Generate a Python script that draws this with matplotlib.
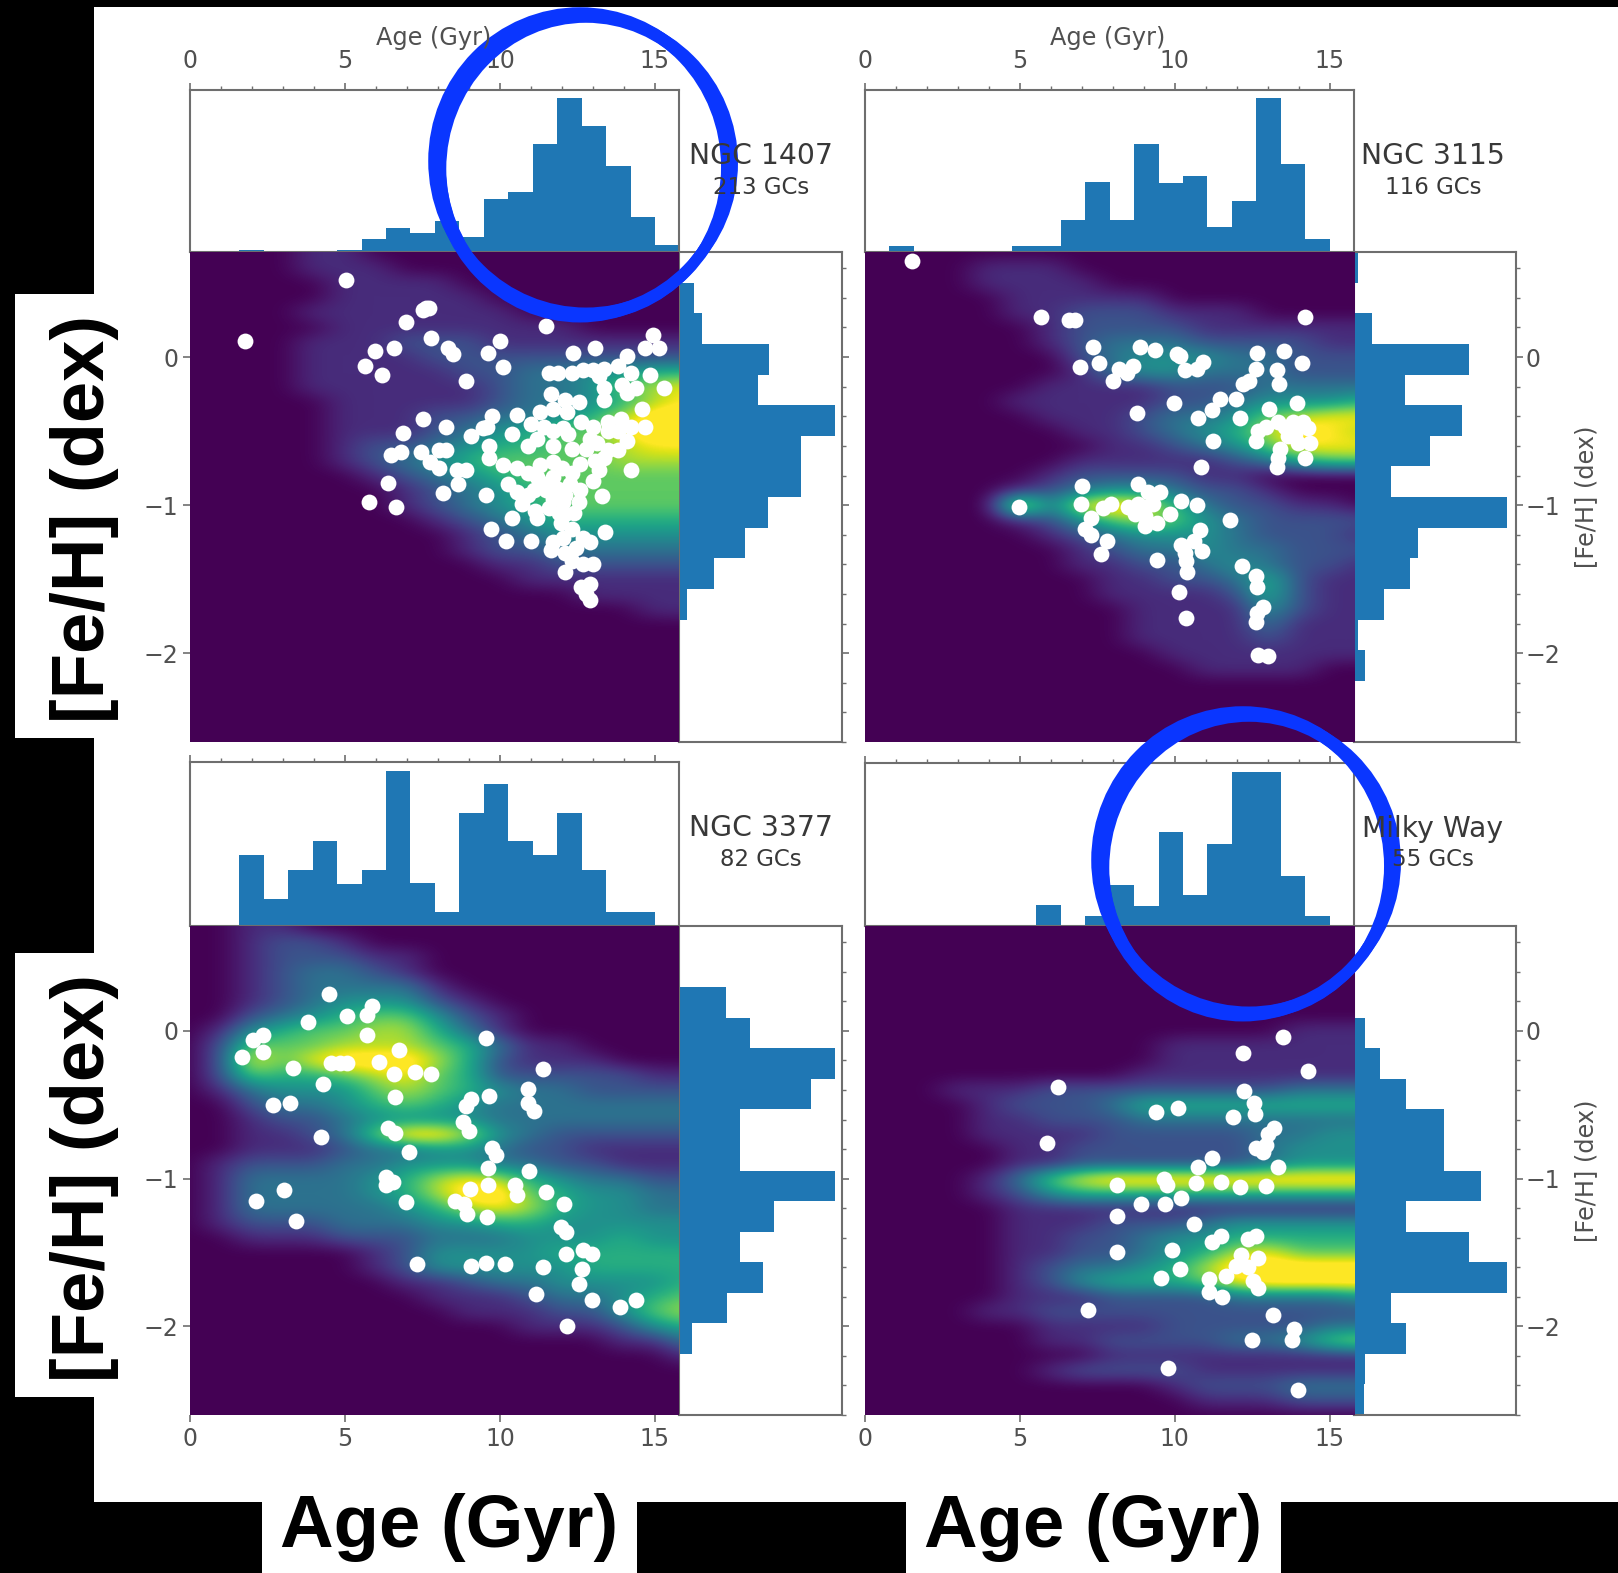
import matplotlib
matplotlib.use('Agg')
import matplotlib.pyplot as plt
from matplotlib.patches import Ellipse, Rectangle
import numpy as np

W = 1618
H = 1573

# histogram heights (same arbitrary unit for all panels)
age_hist_1407 = [0, 0, 5, 0, 0, 0, 5, 28, 50, 40, 65, 32, 109, 124, 225, 320, 262, 179, 73, 15]
age_hist_3115 = [0, 13, 0, 0, 0, 0, 13, 13, 66, 145, 66, 224, 144, 158, 52, 105, 320, 183, 27, 0]
age_hist_3377 = [0, 0, 146, 56, 115, 174, 87, 115, 318, 88, 28, 232, 291, 174, 146, 232, 115, 29, 29, 0]
age_hist_mw = [0, 0, 0, 0, 0, 0, 0, 43, 0, 21, 85, 42, 194, 63, 169, 318, 318, 104, 20, 0]

# top to bottom
feh_hist_1407 = [0, 32, 50, 195, 172, 339, 264, 264, 194, 143, 75, 17, 0, 0, 0, 0]
feh_hist_3115 = [8, 0, 36, 235, 104, 220, 155, 75, 312, 130, 113, 60, 7, 22, 0, 0]
feh_hist_3377 = [0, 0, 102, 154, 339, 287, 132, 132, 339, 206, 132, 183, 103, 27, 0, 0]
feh_hist_mw = [0, 0, 0, 22, 52, 105, 182, 182, 258, 105, 235, 312, 75, 105, 22, 20]

# density levels 0-9, columns are age 0..16 Gyr, rows are [Fe/H] 0.7, 0.6, ... downwards
heat_1407 = [
    "00001100000000000",
    "00001110000000000",
    "00000111100000000",
    "00000111110000000",
    "00001111111000000",
    "00000111111110000",
    "00001112221111111",
    "00001111222222222",
    "00001111122334455",
    "00001111112334678",
    "00000111112334578",
    "00000111223345799",
    "00000111234566899",
    "00000122345566788",
    "00000123456666777",
    "00000012345666666",
    "00000001234566666",
    "00000001234566666",
    "00000000123455555",
    "00000000012344444",
    "00000000012233333",
    "00000000001122222",
    "00000000000111111",
    "00000000000001111",
    "00000000000000011",
]
heat_3115 = [
    "00000000000000000",
    "00001110000000000",
    "00001111000000000",
    "00000111110000000",
    "00000112221110000",
    "00000012222111111",
    "00000012333222211",
    "00000002344433222",
    "00000001344333222",
    "00000011112223333",
    "00000111112234445",
    "00000011123346788",
    "00000001123457987",
    "00000000112346888",
    "00000001111123566",
    "00000012222110000",
    "00000123443221000",
    "00000938985322110",
    "00000124676432222",
    "00000012344432221",
    "00000001233433222",
    "00000001122343221",
    "00000000112235211",
    "00000000111125211",
    "00000000011114211",
    "00000000011113111",
    "00000000011112111",
    "00000000001111111",
    "00000000000111100",
]
heat_3377 = [
    "00110000000000000",
    "00122100000000000",
    "00122211000000000",
    "00123321000000000",
    "00123333100000000",
    "00123444210000000",
    "00234566421000000",
    "01456677531000000",
    "02666777653110000",
    "02868999752111000",
    "02655678652222211",
    "01344467654332222",
    "00233456543333333",
    "00122344443333333",
    "00112369974322222",
    "00111233443221111",
    "01222334443322111",
    "01333345787543322",
    "01333345799654433",
    "01333334578754433",
    "01222333445544444",
    "00111222333444544",
    "00000012444455555",
    "00000012444445555",
    "00000001123344445",
    "00000000111233456",
    "00000000011122467",
    "00000000000111245",
    "00000000000000113",
    "00000000000000001",
]
heat_mw = [
    "00000000000000000",
    "00000000000000000",
    "00000000000000000",
    "00000000000000000",
    "00000000000000000",
    "00000000000000000",
    "00000000000000000",
    "00000000000000111",
    "00000000001111111",
    "00000000001111111",
    "00000000011111111",
    "00011122222222333",
    "00001222355555555",
    "00001122233333333",
    "00001111222223344",
    "00000112222223444",
    "00000112222223444",
    "00001368999999999",
    "00001245555555555",
    "00000111111111111",
    "00000111222344444",
    "00000112234455555",
    "00000112234578666",
    "00000123345799999",
    "00000124555689999",
    "00000111222233334",
    "00001122222222222",
    "00000011112222233",
    "00000011222233467",
    "00000000111111111",
    "00000012222111111",
    "00000000001222333",
    "00000000000111222",
]

# globular clusters (age, [Fe/H])
gc_1407 = [(1.78,.11),(5.02,.52),(7.6,.33),(7.7,.33),(7.5,.32),(6.96,.24),(7.76,.13),(8.33,.06),(8.5,.02),
    (9.63,.03),(10.0,.11),(10.1,-.07),(8.92,-.16),(11.48,.21),(6.58,.06),(5.97,.04),(5.63,-.06),(6.18,-.12),
    (12.36,.03),(13.07,.06),(14.96,.15),(15.14,.06),(14.7,.06),(14.1,.01),(11.6,-.11),(11.88,-.11),(12.33,-.11),
    (12.7,-.09),(13.0,-.09),(13.36,-.08),(13.8,-.06),(14.25,-.11),(14.84,-.12),(15.3,-.21),(13.96,-.19),
    (14.4,-.21),(14.1,-.24),(13.36,-.21),(13.36,-.29),(11.66,-.25),(12.1,-.29),(12.55,-.3),(7.53,-.42),
    (8.25,-.47),(6.87,-.51),(9.73,-.4),(9.58,-.47),(10.55,-.39),(11.29,-.37),(11.73,-.35),(12.18,-.37),
    (11.44,-.47),(12.03,-.48),(12.62,-.44),(13,-.47),(13.5,-.44),(13.9,-.42),(14.25,-.47),(14.7,-.47),(13.5,-.5),
    (9.07,-.53),(9.44,-.48),(10.4,-.52),(11.2,-.55),(11.73,-.5),(14.1,-.57),(13.5,-.63),(13.14,-.58),
    (9.66,-.6),(9.66,-.68),(8.25,-.63),(8.03,-.63),(7.44,-.64),(6.81,-.64),(6.47,-.66),(7.73,-.71),(8.03,-.75),
    (8.62,-.76),(8.92,-.76),(8.65,-.86),(6.37,-.85),(8.15,-.92),(9.56,-.93),(5.78,-.98),(6.65,-1.01),
    (11.73,-.6),(12.33,-.62),(12.77,-.62),(13.8,-.63),(13.07,-.7),(13.36,-.68),(14.22,-.76),(13.2,-.76),(13,-.84),
    (13.3,-.94),(11.29,-.73),(11.73,-.71),(10.55,-.75),(10.1,-.73),(11.2,-.81),(12.33,-.78),(11.73,-.81),
    (10.25,-.86),(10.55,-.91),(10.92,-.93),(11.44,-.86),(11.88,-.89),(12.25,-.86),(12.55,-.98),(11.73,-.96),
    (12.03,-.98),(10.7,-.99),(11.14,-1.04),(11.58,-1.02),(12.1,-1.06),(10.4,-1.09),(11.2,-1.09),(11.96,-1.12),
    (12.33,-1.16),(9.7,-1.16),(13.4,-1.18),(12.03,-1.22),(11.73,-1.25),(12.7,-1.22),(12.92,-1.25),(10.2,-1.24),
    (11,-1.24),(11.66,-1.3),(12.1,-1.32),(12.47,-1.29),(12.33,-1.38),(12.7,-1.4),(13,-1.4),(12.1,-1.45),
    (12.62,-1.55),(12.92,-1.53),(12.77,-1.6),(12.92,-1.64),(10.9,-.6),(11,-.45),(12.9,-.55),(12.2,-.52),
    (13.8,-.5),(14.6,-.35),(13.2,-.13),(10.9,-.78),(11.5,-.9),(11.1,-.9),(12,-.75),(12.6,-.9),(12.1,-.93),
    (11.9,-1.05),(12.4,-1.05),(12.6,-.72)]
gc_3115 = [(1.54,.65),(5.68,.27),(6.59,.25),(6.79,.25),(14.2,.27),(7.38,.07),(8.89,.07),(9.37,.05),(10.08,.02),
    (10.16,.01),(12.67,.03),(13.52,.04),(14.1,-.04),(6.95,-.07),(7.57,-.04),(8.22,-.08),(8.65,-.06),(8.46,-.11),
    (8.02,-.16),(10.35,-.09),(10.71,-.08),(10.92,-.03),(12.62,-.08),(13.3,-.09),(13.38,-.18),(12.22,-.18),
    (12.41,-.16),(9.97,-.31),(11.46,-.28),(11.98,-.28),(8.78,-.38),(11.19,-.36),(10.76,-.41),(12.11,-.41),
    (13.94,-.31),(13.05,-.35),(12.94,-.47),(12.7,-.5),(12.62,-.57),(13.33,-.44),(13.57,-.47),(13.81,-.44),
    (14.13,-.44),(14.29,-.48),(13.89,-.52),(13.65,-.53),(13.97,-.58),(14.37,-.58),(13.41,-.62),(14.2,-.68),
    (13.33,-.68),(13.3,-.74),(11.24,-.57),(10.84,-.74),(4.98,-1.01),(7.02,-.87),(6.98,-.99),(8.81,-.86),
    (9.13,-.91),(9.52,-.91),(10.19,-.97),(10.71,-1),(7.7,-1.02),(7.94,-.99),(7.3,-1.09),(8.49,-1.01),(8.81,-.99),
    (9.05,-1.01),(9.29,-.99),(8.73,-1.06),(9.05,-1.07),(9.44,-1.12),(9.84,-1.06),(9.05,-1.14),(11.78,-1.1),
    (7.11,-1.16),(7.3,-1.2),(7.83,-1.24),(7.62,-1.33),(10.83,-1.17),(10.63,-1.24),(10.19,-1.27),(10.89,-1.31),
    (10.32,-1.32),(9.43,-1.37),(10.38,-1.38),(10.4,-1.45),(12.17,-1.41),(12.63,-1.48),(12.67,-1.55),(10.14,-1.59),
    (12.86,-1.69),(12.67,-1.73),(12.62,-1.79),(10.37,-1.76),(12.7,-2.01),(13.02,-2.02)]
gc_3377 = [(4.47,.25),(3.81,.06),(5.07,.1),(5.69,.11),(5.88,.17),(2.33,-.03),(2.03,-.06),(2.36,-.14),(1.66,-.18),
    (3.33,-.25),(5.69,-.03),(6.73,-.13),(4.55,-.22),(4.84,-.22),(5.07,-.22),(6.1,-.21),(6.59,-.29),(7.26,-.28),
    (7.76,-.29),(4.3,-.36),(6.62,-.45),(2.67,-.5),(3.21,-.49),(4.21,-.72),(6.4,-.66),(6.62,-.69),(7.07,-.82),
    (9.56,-.05),(11.39,-.26),(10.92,-.39),(9.66,-.44),(9.07,-.46),(8.89,-.51),(10.92,-.49),(11.11,-.54),(8.81,-.62),
    (8.99,-.68),(9.73,-.79),(9.88,-.84),(9.63,-.93),(10.95,-.95),(9.61,-1.04),(10.5,-1.04),(10.55,-1.11),(9.02,-1.07),
    (6.33,-.99),(6.33,-1.04),(6.55,-1.02),(6.96,-1.16),(8.55,-1.15),(8.84,-1.17),(8.95,-1.24),(9.58,-1.26),
    (2.13,-1.15),(3.02,-1.08),(3.42,-1.29),(11.48,-1.09),(12.07,-1.17),(11.96,-1.33),(12.13,-1.36),(12.13,-1.51),
    (12.67,-1.48),(12.99,-1.51),(7.32,-1.58),(9.07,-1.59),(9.54,-1.57),(10.18,-1.58),(11.39,-1.6),(12.65,-1.61),
    (12.55,-1.71),(11.17,-1.78),(12.99,-1.82),(13.88,-1.87),(14.4,-1.82),(12.18,-2.0)]
gc_mw = [(13.49,-.04),(12.19,-.15),(14.29,-.27),(6.25,-.38),(12.25,-.41),(12.57,-.49),(12.59,-.56),(9.4,-.55),
    (10.11,-.52),(11.87,-.58),(13.21,-.66),(13.02,-.7),(12.94,-.77),(12.62,-.79),(12.86,-.82),(5.87,-.76),(11.19,-.86),
    (10.76,-.92),(13.33,-.92),(8.14,-1.04),(9.65,-1),(9.76,-1.04),(10.68,-1.03),(11.51,-1.02),(12.11,-1.06),
    (12.94,-1.05),(10.19,-1.13),(9.68,-1.17),(8.92,-1.17),(8.14,-1.25),(10.63,-1.31),(11.51,-1.39),(11.19,-1.43),
    (12.62,-1.39),(12.38,-1.41),(8.14,-1.5),(9.92,-1.48),(10.16,-1.61),(9.56,-1.67),(12.14,-1.52),(12.7,-1.54),
    (11.98,-1.59),(11.67,-1.66),(11.11,-1.68),(12.38,-1.6),(12.54,-1.69),(12.7,-1.74),(11.11,-1.77),(11.54,-1.8),
    (7.19,-1.89),(13.17,-1.92),(13.86,-2.02),(13.78,-2.09),(12.49,-2.09),(9.79,-2.28),(13.97,-2.43)]

names = ['NGC 1407', 'NGC 3115', 'NGC 3377', 'Milky Way']
counts = ['213 GCs', '116 GCs', '82 GCs', '55 GCs']

grey = '#6e6e6e'
txt = '#505050'
xmax = 15.8
ymin = -2.6
ymax = 0.71
n_age = 20
n_feh = 16


def rect(l, t, r, b):
    return [l / W, 1 - b / H, (r - l) / W, (b - t) / H]


def style(ax):
    for s in ax.spines.values():
        s.set_color(grey)
        s.set_linewidth(1.5)
    ax.tick_params(which='both', colors=grey, labelcolor=txt, labelsize=17)
    ax.tick_params(which='major', length=5, width=1.2)
    ax.tick_params(which='minor', length=3, width=1)


def panel(x0, x1, x2, y0, y1, y2, age_h, feh_h, heat, pts, name, count, col, row):
    # top histogram
    axt = fig.add_axes(rect(x0, y0, x1, y1))
    edges = np.linspace(0, xmax, n_age + 1)
    axt.stairs(age_h, edges, fill=True, color='C0')
    axt.set_xlim(0, xmax)
    axt.set_ylim(0, 336)
    axt.set_yticks([])
    axt.set_xticks([0, 5, 10, 15])
    axt.set_xticks(range(0, 16), minor=True)
    axt.xaxis.tick_top()
    axt.tick_params(which='both', bottom=False, top=True)
    style(axt)
    axt.tick_params(axis='x', which='major', pad=7)
    if row == 1:
        axt.set_xticklabels([])

    # right histogram
    axr = fig.add_axes(rect(x1, y1, x2, y2))
    edges = np.linspace(ymin, ymax, n_feh + 1)
    axr.stairs(feh_h[::-1], edges, fill=True, color='C0', orientation='horizontal')
    axr.set_ylim(ymin, ymax)
    axr.set_xlim(0, 355 if col == 0 else 330)
    axr.set_xticks([])
    axr.set_yticks([-2, -1, 0])
    axr.set_yticks(np.arange(-2.6, 0.7, 0.2), minor=True)
    axr.yaxis.tick_right()
    style(axr)
    if col == 0:
        axr.set_yticklabels([])
    else:
        axr.set_yticklabels(['\u22122', '\u22121', '0'])
        axr.tick_params(axis='y', which='major', pad=2)
        axr.set_ylabel('[Fe/H] (dex)', fontsize=17.3, color=txt, labelpad=10)
        axr.yaxis.set_label_position('right')

    # density + clusters
    ax = fig.add_axes(rect(x0, y1, x1, y2))
    rows = [r.ljust(17, '0') for r in heat]
    rows += ['0' * 17] * (34 - len(rows))
    grid = np.array([[int(c) for c in r] for r in rows])
    ax.imshow(grid, cmap='viridis', vmin=0, vmax=8, aspect='auto', interpolation='bicubic',
              extent=(-0.5, 16.5, -2.65, 0.75), origin='upper')
    ax.scatter([p[0] for p in pts], [p[1] for p in pts], s=130, c='white', linewidths=0, zorder=3)
    ax.set_xlim(0, xmax)
    ax.set_ylim(ymin, ymax)
    ax.set_xticks([0, 5, 10, 15])
    ax.set_yticks([-2, -1, 0])
    ax.set_yticklabels(['\u22122', '\u22121', '0'])
    style(ax)
    ax.tick_params(which='both', top=False, right=False)
    for s in ax.spines.values():
        s.set_visible(False)
    if row == 0:
        ax.set_xticks([])
    if col == 1:
        ax.tick_params(left=False, labelleft=False)

    tx = 761 if col == 0 else 1433
    ov.text(tx, y0 + 66, name, fontsize=20.3, color='#383838', ha='center', va='center')
    ov.text(tx, y0 + 97, count, fontsize=16.5, color='#383838', ha='center', va='center')
    if row == 0:
        ov.text(x0 + 243, 38, 'Age (Gyr)', fontsize=17.3, color=txt, ha='center', va='center')


fig = plt.figure(figsize=(W / 100, H / 100), dpi=100, facecolor='black')

# white sheet under the panels
bg = fig.add_axes([0, 0, 1, 1], zorder=-1)
bg.set_xlim(0, W)
bg.set_ylim(H, 0)
bg.axis('off')
bg.add_patch(Rectangle((94, 7), W - 94, 1495, fc='white', ec='none'))

# overlay, pixel coordinates
ov = fig.add_axes([0, 0, 1, 1], zorder=10)
ov.set_xlim(0, W)
ov.set_ylim(H, 0)
ov.axis('off')
ov.patch.set_alpha(0)

panel(190.4, 679.4, 842.4, 90, 252, 742, age_hist_1407, feh_hist_1407, heat_1407, gc_1407, names[0], counts[0], 0, 0)
panel(864.7, 1354.4, 1516, 90, 252, 742, age_hist_3115, feh_hist_3115, heat_3115, gc_3115, names[1], counts[1], 1, 0)
panel(190.4, 679.4, 842.4, 762, 926, 1415, age_hist_3377, feh_hist_3377, heat_3377, gc_3377, names[2], counts[2], 0, 1)
panel(864.7, 1354.4, 1516, 763, 926, 1415, age_hist_mw, feh_hist_mw, heat_mw, gc_mw, names[3], counts[3], 1, 1)

# pasted labels
for yc, yt, yb in [(519, 294, 738), (1178, 953, 1397)]:
    ov.add_patch(Rectangle((15, yt), 80, yb - yt, fc='white', ec='none'))
    ov.text(85, yc, '[Fe/H] (dex)', fontsize=53.5, fontweight='bold', family='Liberation Sans',
            rotation=90, ha='center', va='center', color='black')
for xl, xr in [(262, 637), (906, 1281)]:
    ov.add_patch(Rectangle((xl, 1502), xr - xl, H - 1502, fc='white', ec='none'))
    ov.text((xl + xr) / 2, 1527, 'Age (Gyr)', fontsize=53.5, fontweight='bold', family='Liberation Sans',
            ha='center', va='center', color='black')

# hand drawn rings, several passes of the pen
blue = '#0a36ff'
passes = [(0, 0, 293, 300, 8), (-3, 2, 289, 304, 5), (3, -2, 297, 296, 5), (3, 4, 285, 298, 4),
          (-3, -4, 298, 302, 4), (2, -1, 283, 306, 3)]
for cx, cy in [(583, 165), (1246, 864)]:
    for dx, dy, w, h, lw in passes:
        ov.add_patch(Ellipse((cx + dx, cy + dy), w, h, fill=False, ec=blue, lw=lw))

fig.savefig('out.png', dpi=100, facecolor='black')
